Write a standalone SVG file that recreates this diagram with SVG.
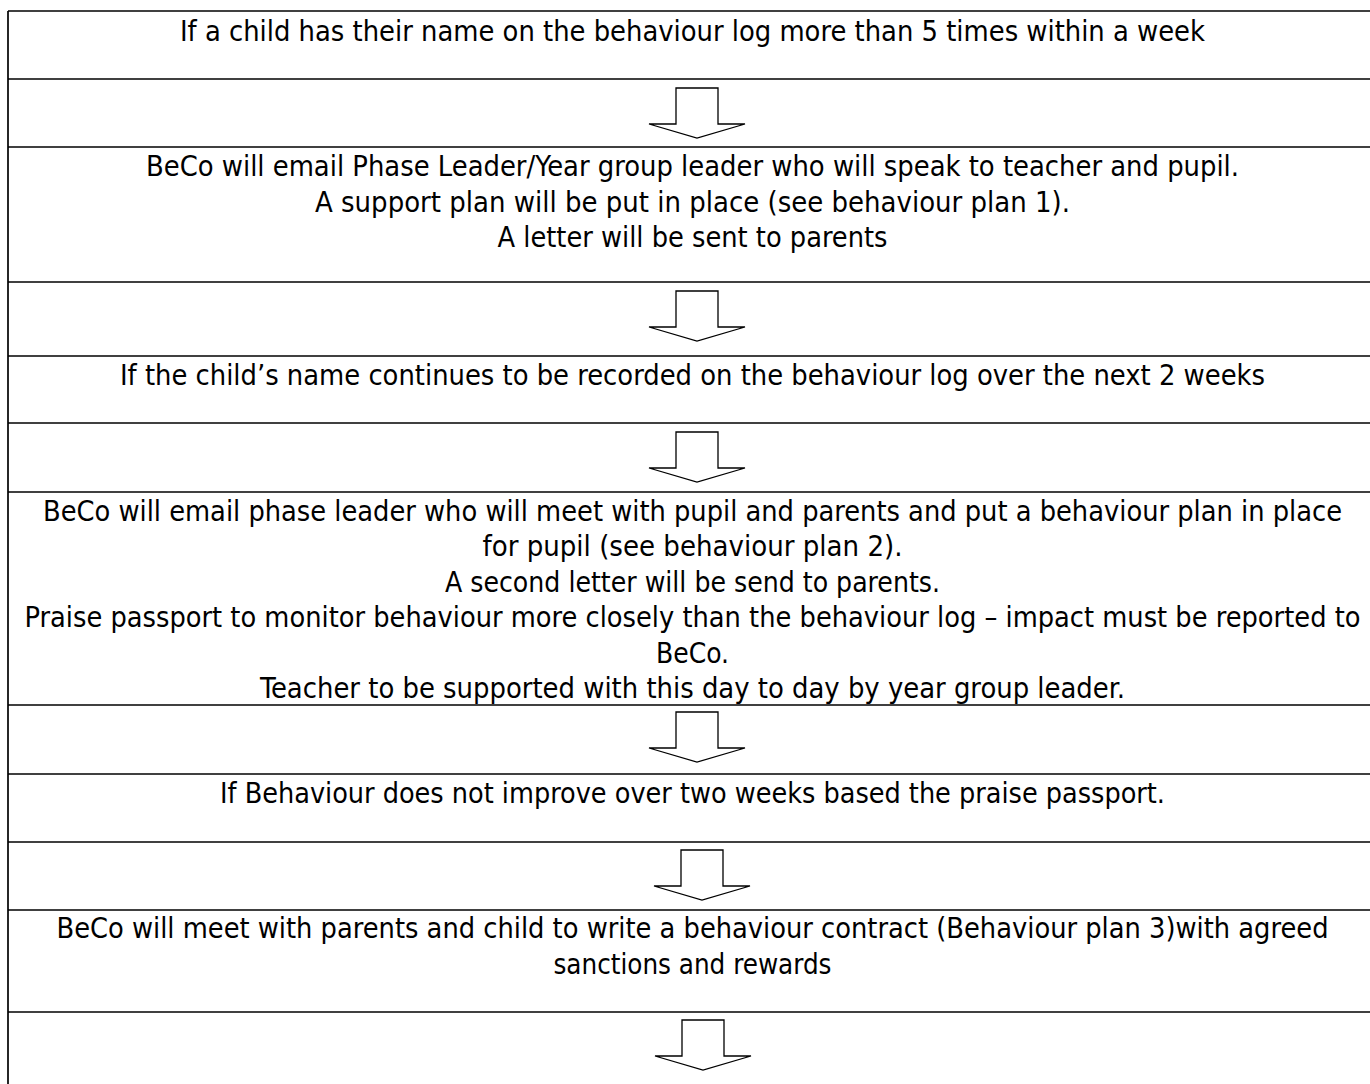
<svg xmlns="http://www.w3.org/2000/svg" width="1370" height="1084" viewBox="0 0 1370 1084">
<style>
.bg{fill:#ffffff}
.grid{stroke:#000;stroke-width:1.7;fill:none}
.t{font-family:"DejaVu Sans Condensed","DejaVu Sans",Verdana,sans-serif;font-size:29px;fill:#000;text-anchor:middle}
.arr{fill:#fff;stroke:#000;stroke-width:1.3;stroke-linejoin:miter}
</style>
<defs>
<path id="down" d="M -21 0 L 21 0 L 21 36 L 48 36 L 0 50 L -48 36 L -21 36 Z"/>
</defs>
<rect class="bg" x="0" y="0" width="1370" height="1084"/>
<g id="table" class="grid">
<line x1="8" y1="11" x2="8" y2="1084"/>
<line x1="8" y1="11" x2="1370" y2="11"/>
<line x1="8" y1="79" x2="1370" y2="79"/>
<line x1="8" y1="147" x2="1370" y2="147"/>
<line x1="8" y1="282" x2="1370" y2="282"/>
<line x1="8" y1="356" x2="1370" y2="356"/>
<line x1="8" y1="423" x2="1370" y2="423"/>
<line x1="8" y1="492" x2="1370" y2="492"/>
<line x1="8" y1="705" x2="1370" y2="705"/>
<line x1="8" y1="774" x2="1370" y2="774"/>
<line x1="8" y1="842" x2="1370" y2="842"/>
<line x1="8" y1="910" x2="1370" y2="910"/>
<line x1="8" y1="1012" x2="1370" y2="1012"/>
</g>
<g id="step1">
<text class="t" x="692.5" y="41" textLength="1025" lengthAdjust="spacingAndGlyphs">If a child has their name on the behaviour log more than 5 times within a week</text>
</g>
<g id="step2">
<text class="t" x="692.5" y="176" textLength="1093" lengthAdjust="spacingAndGlyphs">BeCo will email Phase Leader/Year group leader who will speak to teacher and pupil.</text>
<text class="t" x="692.5" y="211.5" textLength="755" lengthAdjust="spacingAndGlyphs">A support plan will be put in place (see behaviour plan 1).</text>
<text class="t" x="692.5" y="247" textLength="390" lengthAdjust="spacingAndGlyphs">A letter will be sent to parents</text>
</g>
<g id="step3">
<text class="t" x="692.5" y="385" textLength="1145" lengthAdjust="spacingAndGlyphs">If the child’s name continues to be recorded on the behaviour log over the next 2 weeks</text>
</g>
<g id="step4">
<text class="t" x="692.5" y="521" textLength="1299" lengthAdjust="spacingAndGlyphs">BeCo will email phase leader who will meet with pupil and parents and put a behaviour plan in place</text>
<text class="t" x="692.5" y="556.4" textLength="420" lengthAdjust="spacingAndGlyphs">for pupil (see behaviour plan 2).</text>
<text class="t" x="692.5" y="591.8" textLength="495" lengthAdjust="spacingAndGlyphs">A second letter will be send to parents.</text>
<text class="t" x="692.5" y="627.2" textLength="1336" lengthAdjust="spacingAndGlyphs">Praise passport to monitor behaviour more closely than the behaviour log – impact must be reported to</text>
<text class="t" x="692.5" y="662.6" textLength="73" lengthAdjust="spacingAndGlyphs">BeCo.</text>
<text class="t" x="692.5" y="698" textLength="865" lengthAdjust="spacingAndGlyphs">Teacher to be supported with this day to day by year group leader.</text>
</g>
<g id="step5">
<text class="t" x="692.5" y="803" textLength="945" lengthAdjust="spacingAndGlyphs">If Behaviour does not improve over two weeks based the praise passport.</text>
</g>
<g id="step6">
<text class="t" x="692.5" y="938" textLength="1272" lengthAdjust="spacingAndGlyphs">BeCo will meet with parents and child to write a behaviour contract (Behaviour plan 3)with agreed</text>
<text class="t" x="692.5" y="973.5" textLength="278" lengthAdjust="spacingAndGlyphs">sanctions and rewards</text>
</g>
<g id="connectors">
<use href="#down" class="arr" x="697" y="88"/>
<use href="#down" class="arr" x="697" y="291"/>
<use href="#down" class="arr" x="697" y="432"/>
<use href="#down" class="arr" x="697" y="712"/>
<use href="#down" class="arr" x="702" y="850"/>
<use href="#down" class="arr" x="703" y="1020"/>
</g>
</svg>
